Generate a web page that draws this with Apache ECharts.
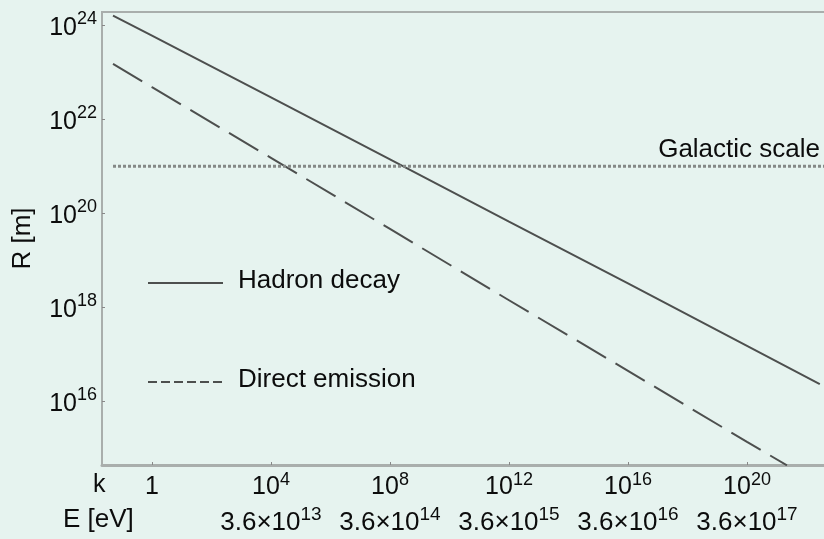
<!DOCTYPE html>
<html><head><meta charset="utf-8">
<script src="https://cdn.jsdelivr.net/npm/echarts@6/dist/echarts.min.js"></script>
<style>html,body{margin:0;padding:0;background:#e6f3ef;}#c{width:824px;height:539px;}</style>
</head><body><div id="c"></div>
<script>
// Data (log-log straight lines)
var kValues      = [0.049, 1, 1e4, 1e8, 1e12, 1e16, 1e20, 2.8e22];
var hadronDecay  = [1.6e24, 6.0e23, 2.9e22, 1.4e21, 6.6e19, 3.2e18, 1.5e17, 2.3e16];
var kDirect      = [0.049, 1, 1e4, 1e8, 1e12, 1e16, 1e20, 2.2e21];
var directEmiss  = [1.5e23, 4.8e22, 1.5e21, 4.6e19, 1.4e18, 4.4e16, 1.35e15, 4.3e14];
var kGalactic    = [0.049, 5e22];
var galactic     = [1e21, 1e21];
var xTickExps    = [0, 4, 8, 12, 16, 20];
var eTickExps    = [null, 13, 14, 15, 16, 17];
var yTickExps    = [16, 18, 20, 22, 24];
var seriesNames  = ['Hadron decay', 'Direct emission'];

function pairs(xs, ys){ return xs.map(function(x,i){ return [x, ys[i]]; }); }
var font = 'Liberation Sans, Arial, sans-serif';
var ink = '#0c0c0c';
var lineCol = '#4d4f4e';
var chart = echarts.init(document.getElementById('c'), null, {renderer:'canvas'});
chart.setOption({
  backgroundColor: '#e6f3ef',
  animation: false,
  textStyle: {fontFamily: font},
  grid: {left: 102, top: 12, width: 728, height: 453, outerBoundsMode: 'none', containLabel: false,
         show: true, borderColor: '#a9aeac', borderWidth: 2, backgroundColor: 'transparent'},
  xAxis: {
    type: 'log', logBase: 10,
    min: Math.pow(10, -1.68), max: Math.pow(10, 22.79),
    splitLine: {show: false},
    axisLine: {lineStyle: {color: '#a9aeac', width: 3}},
    axisTick: {inside: true, length: 3, lineStyle:{color:'#888'}, customValues: xTickExps.map(function(e){return Math.pow(10,e);})},
    axisLabel: {
      customValues: xTickExps.map(function(e){return Math.pow(10,e);}),
      margin: 5, color: ink, fontSize: 25, lineHeight: 35,
      formatter: function(v){
        var n = Math.round(Math.log10(v));
        var i = xTickExps.indexOf(n);
        var top = n === 0 ? '{b|1}' : '{b|10}{s|' + n + '}';
        var bot = eTickExps[i] == null ? '{e| }' : '{e|3.6×10}{t|' + eTickExps[i] + '}';
        return top + '\n' + bot;
      },
      rich: {
        b: {fontSize: 25, color: ink, fontFamily: font, lineHeight: 35},
        s: {fontSize: 18, color: ink, fontFamily: font, lineHeight: 35, padding: [0,0,15,0]},
        e: {fontSize: 26, color: ink, fontFamily: font, lineHeight: 35},
        t: {fontSize: 19, color: ink, fontFamily: font, lineHeight: 35, padding: [0,0,15,0]}
      }
    }
  },
  yAxis: {
    type: 'log', logBase: 10,
    min: Math.pow(10, 14.64), max: Math.pow(10, 24.28),
    name: 'R [m]', nameLocation: 'middle', nameGap: 66, nameRotate: 90,
    nameTextStyle: {fontSize: 26, color: ink, fontFamily: font},
    splitLine: {show: false},
    axisLine: {lineStyle: {color: '#a9aeac', width: 2}},
    axisTick: {inside: true, length: 3, lineStyle:{color:'#888'}, customValues: yTickExps.map(function(e){return Math.pow(10,e);})},
    axisLabel: {
      customValues: yTickExps.map(function(e){return Math.pow(10,e);}),
      margin: 5, color: ink,
      formatter: function(v){ return '{b|10}{s|' + Math.round(Math.log10(v)) + '}'; },
      rich: {
        b: {fontSize: 25, color: ink, fontFamily: font, padding: [6,0,0,0]},
        s: {fontSize: 18, color: ink, fontFamily: font, padding: [0,0,12,0]}
      }
    }
  },
  graphic: [
    {type:'text', left: 93, top: 473, style:{text:'k', fontSize: 25, fill: ink, fontFamily: font}},
    {type:'text', left: 63, top: 507, style:{text:'E [eV]', fontSize: 26, fill: ink, fontFamily: font}},
    // legend
    {type:'line', shape:{x1:148, y1:283, x2:223, y2:283}, style:{stroke: lineCol, lineWidth: 2}},
    {type:'text', left: 238, top: 268, style:{text: seriesNames[0], fontSize: 26, fill: ink, fontFamily: font}},
    {type:'line', shape:{x1:148, y1:382, x2:223, y2:382}, style:{stroke: lineCol, lineWidth: 2, lineDash:[9,4]}},
    {type:'text', left: 238, top: 367, style:{text: seriesNames[1], fontSize: 26, fill: ink, fontFamily: font}}
  ],
  series: [
    {name: seriesNames[0], type: 'line', data: pairs(kValues, hadronDecay), symbol: 'none', silent: true,
     lineStyle: {color: lineCol, width: 2}, itemStyle:{color: lineCol}},
    {name: seriesNames[1], type: 'line', data: pairs(kDirect, directEmiss), symbol: 'none', silent: true,
     lineStyle: {color: lineCol, width: 2, type: [34, 11]}, itemStyle:{color: lineCol}},
    {name: 'Galactic', type: 'line', data: pairs(kGalactic, galactic), symbol: 'none', silent: true,
     lineStyle: {color: '#858987', width: 3, type: [3, 2]},
     markLine: {silent: true, symbol: 'none', data: [{yAxis: 1e21}],
       lineStyle: {color: 'rgba(0,0,0,0)', width: 0},
       label: {show: true, position: 'insideEndTop', formatter: 'Galactic scale', fontSize: 26, color: ink, fontFamily: font, distance: [10, 3]}}}
  ]
});
</script></body></html>
